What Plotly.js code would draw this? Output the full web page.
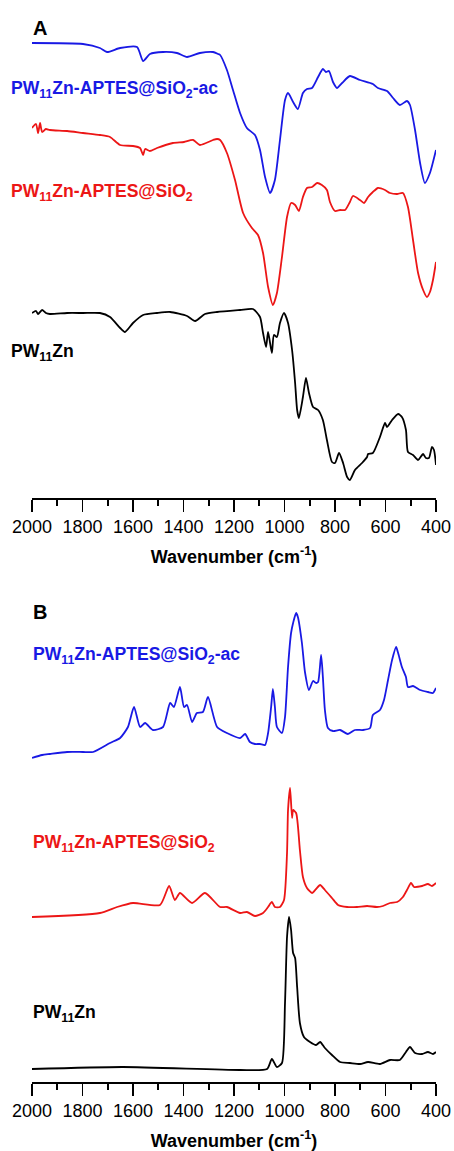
<!DOCTYPE html>
<html>
<head>
<meta charset="utf-8">
<script src="https://cdn.plot.ly/plotly-3.0.1.min.js"></script>
<style>html,body{margin:0;padding:0;background:#fff;}#chart{width:454px;height:1151px;}</style>
</head>
<body>
<div id="chart"></div>
<script>
// ---- Panel A (FTIR, a.u.) ----
var waveA_ac  = [2000,1798,1731,1703,1651,1584,1560,1533,1481,1426,1386,1335,1283,1263,1255,1228,1204,1176,1149,1117,1097,1077,1057,1038,1018,998,986,966,947,927,911,891,867,848,836,824,808,792,772,741,701,650,630,594,570,543,515,503,483,463,444,424,400];
var ftir_ac   = [455,454,450,446,450,451,437,444,446,445,441,445,446,444,443,428,408,385,370,363,348,321,305,318,358,398,405,396,389,405,409,410,421,429,426,427,416,410,415,422,418,414,410,407,400,393,397,393,368,335,315,325,348];

var waveA_si  = [2000,1984,1976,1968,1960,1945,1929,1861,1798,1731,1691,1651,1600,1572,1560,1552,1533,1505,1442,1398,1362,1335,1283,1267,1255,1228,1196,1164,1129,1105,1085,1065,1046,1030,1010,990,974,958,943,927,911,891,871,852,832,820,800,780,760,741,729,701,685,669,650,630,602,582,554,531,511,491,471,451,436,424,412,400];
var ftir_si   = [370,374,365,375,366,369,368,367,365,363,361,353,352,350,343,349,347,350,355,356,358,353,358,359,358,345,318,285,270,263,245,211,193,205,241,281,295,293,287,301,310,311,315,313,308,296,287,288,288,296,302,298,295,301,306,310,308,305,304,305,291,258,225,208,201,206,218,236];

var waveA_pw  = [2000,1984,1976,1960,1945,1929,1861,1798,1731,1691,1651,1632,1600,1560,1505,1453,1386,1354,1315,1267,1176,1125,1097,1085,1073,1065,1050,1042,1030,1018,1002,986,970,958,950,943,927,915,903,887,867,848,832,812,800,784,768,752,741,721,693,673,669,650,622,602,594,574,550,535,519,511,491,471,451,440,428,416,408,400];
var ftir_pw   = [185,187,184,188,185,184,185,185,185,181,170,166,175,183,185,186,182,177,184,186,188,189,181,165,151,166,145,163,161,175,185,175,148,115,88,80,101,120,105,91,88,78,58,36,35,45,35,21,18,28,35,41,44,45,61,75,71,78,84,81,68,46,43,38,44,40,40,51,48,33];

// ---- Panel B (Raman, a.u.) ----
var waveB_ac  = [2000,1960,1929,1861,1798,1758,1691,1651,1620,1596,1572,1552,1521,1481,1453,1438,1414,1398,1386,1366,1347,1323,1303,1267,1228,1176,1156,1137,1117,1097,1077,1065,1053,1046,1038,1030,1010,998,986,974,966,954,947,931,919,903,887,875,867,855,848,840,828,808,780,749,721,689,661,650,622,606,590,574,558,550,535,519,511,491,463,432,412,400];
var raman_ac  = [324,327,328,330,330,330,339,344,355,375,355,359,352,355,379,375,395,375,377,360,369,370,385,355,349,344,348,340,338,338,337,349,375,393,375,355,349,365,415,449,459,469,465,439,410,392,401,399,400,427,405,372,354,351,352,348,352,352,354,367,372,382,402,422,435,429,415,405,395,396,392,390,389,394];

var waveB_si  = [2000,1731,1663,1600,1493,1457,1434,1414,1366,1315,1255,1228,1176,1149,1117,1085,1065,1050,1038,1018,1002,990,986,978,970,966,954,939,927,911,891,875,859,840,812,788,752,713,673,634,610,582,554,531,515,499,487,455,432,416,400];
var raman_si  = [165,169,175,179,177,196,182,189,179,189,175,175,169,170,166,169,175,180,175,175,182,229,272,294,264,272,269,232,205,194,189,193,197,192,184,177,175,175,176,175,176,179,180,185,192,199,195,196,198,196,199];

var waveB_pw  = [2000,1640,1176,1069,1050,1030,1010,998,990,982,974,966,958,950,939,923,899,875,859,840,812,780,741,701,669,622,582,543,519,503,483,455,432,412,400];
var raman_pw  = [13,15,12,13,23,15,19,79,145,165,152,129,124,95,59,45,40,37,40,34,27,20,19,18,20,18,22,22,30,35,29,28,30,28,30];

var tickVals = [2000,1800,1600,1400,1200,1000,800,600,400];
var tickText = ["2000","1800","1600","1400","1200","1000","800","600","400"];
var axisTitle = "Wavenumber (cm<sup>-1</sup>)";
var labAc = "PW<sub>11</sub>Zn-APTES@SiO<sub>2</sub>-ac";
var labSi = "PW<sub>11</sub>Zn-APTES@SiO<sub>2</sub>";
var labPw = "PW<sub>11</sub>Zn";

var BLUE = "rgb(25,25,228)", RED = "rgb(236,22,22)", BLACK = "#000";
var FONT = "Liberation Sans, Arial, Helvetica, sans-serif";
var W = 454, H = 1151;
function py(p){ return 1 - p / H; }

function tr(x, y, c, xa, ya){
  return {x:x, y:y, xaxis:xa, yaxis:ya, mode:"lines", line:{color:c, width:1.8, shape:"spline", smoothing:0.6}, hoverinfo:"skip", showlegend:false};
}
var data = [
  tr(waveA_ac, ftir_ac, BLUE, "x", "y"),
  tr(waveA_si, ftir_si, RED, "x", "y"),
  tr(waveA_pw, ftir_pw, BLACK, "x", "y"),
  tr(waveB_ac, raman_ac, BLUE, "x2", "y2"),
  tr(waveB_si, raman_si, RED, "x2", "y2"),
  tr(waveB_pw, raman_pw, BLACK, "x2", "y2")
];

function xax(anchor){
  return {
    anchor: anchor, domain:[32/W, 436/W], range:[2000,400], autorange:false,
    showline:true, linecolor:"#000", linewidth:1.6, mirror:false,
    ticks:"outside", ticklen:12, tickwidth:1.6, tickcolor:"#000",
    tickmode:"array", tickvals:tickVals, ticktext:tickText,
    minor:{ticks:"outside", ticklen:6, tickwidth:1.6, tickcolor:"#000", dtick:100, tick0:0, showgrid:false},
    showgrid:false, zeroline:false, automargin:false,
    tickfont:{family:FONT, size:18, color:"#000"},
    title:{text:axisTitle, font:{family:FONT, size:18, color:"#000", weight:"bold"}, standoff:14}
  };
}

function lab(t, x, y, c, s){
  return {text:"<b>"+t+"</b>", x:x/W, y:py(y), xref:"paper", yref:"paper", xanchor:"left", yanchor:"middle", showarrow:false, font:{family:FONT, size:s, color:c}};
}

var layout = {
  width:W, height:H, margin:{l:0,r:0,t:0,b:0},
  paper_bgcolor:"#fff", plot_bgcolor:"rgba(0,0,0,0)",
  xaxis: xax("y"),
  xaxis2: xax("y2"),
  yaxis: {domain:[py(498), py(30)], range:[0,468], visible:false, fixedrange:true},
  yaxis2:{domain:[py(1082), py(600)], range:[0,482], visible:false, fixedrange:true},
  annotations:[
    lab("A", 31, 28, BLACK, 20),
    lab("B", 31, 612, BLACK, 20),
    lab(labAc, 9, 90, BLUE, 17.6),
    lab(labSi, 9, 193, RED, 17.6),
    lab(labPw, 9, 352, BLACK, 17.6),
    lab(labAc, 31, 655, BLUE, 17.6),
    lab(labSi, 31, 843, RED, 17.6),
    lab(labPw, 31, 1013, BLACK, 17.6)
  ]
};

Plotly.newPlot("chart", data, layout, {staticPlot:true, displayModeBar:false});
</script>
</body>
</html>
